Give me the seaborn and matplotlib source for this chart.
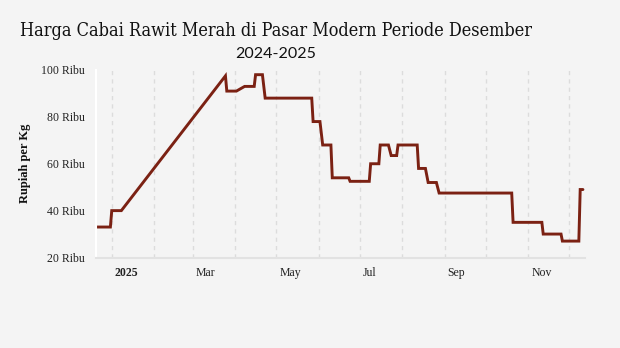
import matplotlib
matplotlib.use("Agg")
import matplotlib.pyplot as plt
import matplotlib.transforms as mtransforms
import seaborn as sns
import pandas as pd

# ---- data ----
dates = [
    "2024-12-21", "2024-12-31", "2025-01-01", "2025-01-08", "2025-03-25",
    "2025-03-26", "2025-04-02", "2025-04-08", "2025-04-15", "2025-04-16",
    "2025-04-21", "2025-04-23", "2025-05-27", "2025-05-28", "2025-06-02",
    "2025-06-04", "2025-06-10", "2025-06-11", "2025-06-23", "2025-06-24",
    "2025-07-08", "2025-07-09", "2025-07-15", "2025-07-16", "2025-07-22",
    "2025-07-24", "2025-07-28", "2025-07-29", "2025-08-12", "2025-08-13",
    "2025-08-18", "2025-08-20", "2025-08-26", "2025-08-28", "2025-10-20",
    "2025-10-21", "2025-11-11", "2025-11-12", "2025-11-25", "2025-11-26",
    "2025-12-08", "2025-12-09", "2025-12-11",
]
prices = [
    33, 33, 40, 40, 97.5,
    91, 91, 93, 93, 98,
    98, 88, 88, 78, 78,
    68, 68, 54, 54, 52.5,
    52.5, 60, 60, 68, 68,
    63.5, 63.5, 68, 68, 58,
    58, 52, 52, 47.5, 47.5,
    35, 35, 30, 30, 27,
    27, 49, 49,
]
y_ticks = [20, 40, 60, 80, 100]
y_tick_labels = ["20 Ribu", "40 Ribu", "60 Ribu", "80 Ribu", "100 Ribu"]
x_major = ["2025-01-01", "2025-03-01", "2025-05-01", "2025-07-01", "2025-09-01", "2025-11-01"]
x_major_labels = ["2025", "Mar", "May", "Jul", "Sep", "Nov"]
x_minor = ["2025-02-01", "2025-04-01", "2025-06-01", "2025-08-01", "2025-10-01", "2025-12-01"]
x_limits = ["2024-12-20 12:00", "2025-12-12 12:00"]
title_line1 = "Harga Cabai Rawit Merah di Pasar Modern Periode Desember"
title_line2 = "2024-2025"
y_label = "Rupiah per Kg"

BG = "#f4f4f4"
LINE = "#7b2113"
GRID = "#dcdcdc"

sns.set_theme(style="white")
plt.rcParams['font.family'] = ['Liberation Serif', 'DejaVu Serif']

df = pd.DataFrame({"tanggal": pd.to_datetime(dates), "harga": prices})

fig = plt.figure(figsize=(6.2, 3.48), dpi=100)
fig.patch.set_facecolor(BG)
ax = fig.add_axes([96/620, 1-257.5/348, (585-96)/620, (257.5-70)/348])
ax.set_facecolor(BG)

sns.lineplot(data=df, x="tanggal", y="harga", ax=ax, color=LINE,
             linewidth=2.1, solid_joinstyle="miter")

ax.set_ylim(y_ticks[0], y_ticks[-1])
ax.set_xlim(pd.to_datetime(x_limits[0]), pd.to_datetime(x_limits[1]))

ax.grid(False)
ax.grid(True, which="both", axis="x", linestyle=(0, (3, 3)), color=GRID, linewidth=1)
ax.set_axisbelow(True)

ax.tick_params(axis="x", which="major", length=4, width=1, color=GRID, pad=2.5)
ax.tick_params(axis="x", which="minor", length=0)
ax.tick_params(axis="y", length=6, width=1.5, color="white", pad=2)

ax.set_yticks(y_ticks)
ax.set_yticklabels(y_tick_labels, fontsize=8.5, color="#222222")
ax.set_xticks(pd.to_datetime(x_major))
ax.set_xticklabels(x_major_labels, fontsize=8.5, color="#222222", ha="left")
ax.set_xticks(pd.to_datetime(x_minor), minor=True)
ax.get_xticklabels()[0].set_fontweight("bold")

offset = mtransforms.ScaledTranslation(3/100, 0, fig.dpi_scale_trans)
for tick in ax.xaxis.get_major_ticks():
    tick.label1.set_transform(tick.label1.get_transform() + offset)

for s in ["top", "right"]:
    ax.spines[s].set_visible(False)
ax.spines["left"].set_color("white")
ax.spines["left"].set_linewidth(1.5)
ax.spines["bottom"].set_color("#e2e2e2")
ax.spines["bottom"].set_linewidth(1.5)

ax.set_xlabel("")
ax.set_ylabel(y_label, fontsize=9, fontweight="bold", color="#111111")
ax.yaxis.set_label_coords((31-96)/489, 0.5)

t1 = fig.text(276/620, 1-31/348, title_line1, ha="center", va="center",
              fontsize=15, family=["DejaVu Serif"], stretch="condensed",
              color="#111111")
fig.text(276/620, 1-54/348, title_line2, ha="center", va="center",
         fontsize=11.5, family=["Lato", "DejaVu Sans"], color="#111111")

# shrink the title to the reference width (about 512 px) if needed
fig.canvas.draw()
w = t1.get_window_extent().width
if w > 512:
    t1.set_fontsize(15 * 512 / w)

fig.savefig("out.png", dpi=100, facecolor=BG)
